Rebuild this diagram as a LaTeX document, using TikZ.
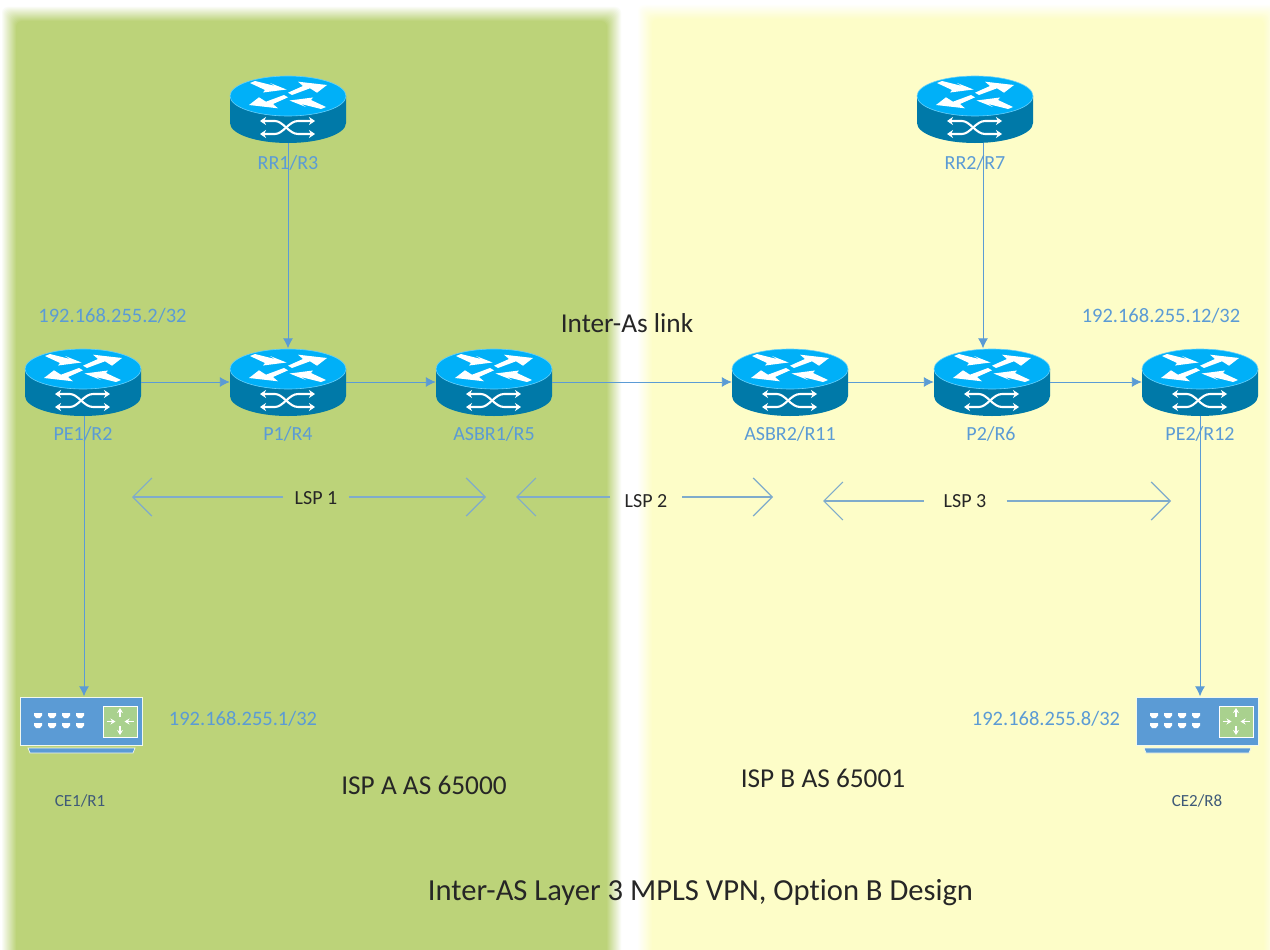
\documentclass[tikz,border=0pt]{standalone}
\usepackage{fontspec}
\setmainfont{Carlito}[Ligatures=NoCommon]
\usetikzlibrary{arrows.meta}
\definecolor{panelA}{HTML}{BCD379}
\definecolor{panelB}{HTML}{FDFDC8}
\definecolor{linkblue}{HTML}{5B9BD5}
\definecolor{lsp}{HTML}{7FABCB}
\definecolor{ctop}{HTML}{00B0F8}
\definecolor{cbody}{HTML}{0079A8}
\definecolor{cegreen}{HTML}{A9D18E}
\definecolor{celabel}{HTML}{3F5A78}
\tikzset{
  x=1pt,y=-1pt,
  hostbox/.style={inner sep=0,minimum width=116,minimum height=67},
  cebox/.style={inner sep=0,minimum width=122,minimum height=49},
  iplabel/.style={text=linkblue,font=\fontsize{20.5}{22}\selectfont,inner sep=0},
  rlabel/.style={text=linkblue,font=\fontsize{20}{22}\selectfont,inner sep=0},
  celab/.style={text=celabel,font=\fontsize{17}{19}\selectfont,inner sep=0},
  caption/.style={text=black!85,font=\fontsize{27.3}{30}\selectfont,inner sep=0},
  lsplab/.style={text=black!85,font=\fontsize{20}{22}\selectfont,inner sep=0},
  conn/.style={draw=linkblue,line width=.9pt,-{Latex[length=10pt,width=10pt]}},
  lsparrow/.style={draw=lsp,line width=1.2pt,-{Straight Barb[length=19pt,width=38pt,line width=1.2pt]}},
  crossline/.style={white,line width=2.1pt,{Stealth[length=6pt,width=8pt]}-{Stealth[length=6pt,width=8pt]}},
  routericon/.pic={
    \fill[cbody] (-58,-13) -- (-58,14) arc[start angle=180,end angle=360,x radius=58,y radius=-20] -- (58,-13) -- cycle;
    \fill[ctop,draw=ctop!60!white,line width=.6pt] (0,-13) ellipse[x radius=58,y radius=20];
    \foreach \r in {0,180}{
      \begin{scope}[rotate around={\r:(0,-14)}]
        \fill[white] (-38,-26) -- (-33,-28) -- (-13,-23) -- (-18,-26) -- (-1.5,-19.5) -- (-25,-16.5) -- (-23,-19) -- cycle;
        \fill[white] (0,-16.3) -- (15,-23) -- (10,-27.3) -- (39,-24) -- (29,-16.3) -- (22,-20.7) -- (4,-14) -- cycle;
      \end{scope}
    }
    \draw[crossline] (-28,12) -- (-13,12) .. controls (-5,12) and (1,25) .. (10,25) -- (27,25);
    \draw[crossline] (-28,25) -- (-13,25) .. controls (-5,25) and (1,12) .. (10,12) -- (27,12);
  },
  ceicon/.pic={
    \fill[linkblue,draw=white!85!cegreen,line width=1pt] (-61,-24) rectangle (61,24);
    \fill[linkblue,draw=white!85!cegreen,line width=.7pt] (-53.5,27) -- (53.5,27) -- (51.5,32) -- (-51.5,32) -- cycle;
    \fill[cegreen,draw=white,line width=.8pt] (21.5,-15) rectangle (55.5,16);
    \foreach \a in {-47.5,-33.5,-19.5,-5.5}{
      \foreach \b in {-8,2}{
        \fill[white] (\a,\b) -- (\a+8,\b) -- (\a+8,\b+2.5) -- (\a+6,\b+5) -- (\a+2,\b+5) -- (\a,\b+2.5) -- cycle;
      }
    }
    \begin{scope}[white,line width=1.3pt,-{Stealth[length=5pt,width=6pt]}]
      \draw (38.5,-4) -- (38.5,-13);
      \draw (38.5,5) -- (38.5,14);
      \draw (25,0.5) -- (34,0.5);
      \draw (52,0.5) -- (43,0.5);
    \end{scope}
  },
}
\newcommand{\hostrouter}[3]{\node[hostbox] (#1) at (#2,#3) {}; \pic at (#1) {routericon};}
\newcommand{\cedevice}[3]{\node[cebox] (#1) at (#2,#3) {}; \pic at (#1) {ceicon};}
\begin{document}
\begin{tikzpicture}
\useasboundingbox (0,0) rectangle (1270,950);
\fill[white] (0,0) rectangle (1270,950);
\begin{scope}
\clip (0,0) rectangle (1270,950);
\foreach \i in {0,...,14}{
  \pgfmathsetmacro{\p}{100*(\i+1)/15}
  \fill[panelA!\p!white,rounded corners=6pt] (2+\i,7+\i) rectangle (621-\i,990);
  \fill[panelB!\p!white,rounded corners=6pt] (638+\i,5+\i) rectangle (1278-\i,990);
}
\end{scope}

\hostrouter{rr1}{288}{109}
\hostrouter{rr2}{975}{109}
\hostrouter{pe1}{83}{382}
\hostrouter{p1}{288}{382}
\hostrouter{asbr1}{494}{382}
\hostrouter{asbr2}{790}{382}
\hostrouter{p2}{992}{382}
\hostrouter{pe2}{1200}{382}
\cedevice{ce1}{81.5}{721}
\cedevice{ce2}{1197.5}{721}

\draw[conn] (rr1.south) -- (p1.north);
\draw[conn] ([xshift=8]rr2.south) -- ([xshift=-9]p2.north);
\draw[conn] (pe1.east) -- (p1.west);
\draw[conn] (p1.east) -- (asbr1.west);
\draw[conn] (asbr1.east) -- (asbr2.west);
\draw[conn] (asbr2.east) -- (p2.west);
\draw[conn] (p2.east) -- (pe2.west);
\draw[conn] ([xshift=1]pe1.south) -- ([xshift=2.5]ce1.north);
\draw[conn] (pe2.south) -- ([xshift=2.5]ce2.north);

\node[rlabel] (lrr1) at (288,163) {RR1/R3};
\node[rlabel] (lrr2) at (975,163) {RR2/R7};
\node[rlabel] (lpe1) at (83,434) {PE1/R2};
\node[rlabel] (lp1) at (288,434) {P1/R4};
\node[rlabel] (lasbr1) at (494,434) {ASBR1/R5};
\node[rlabel] (lasbr2) at (790,434) {ASBR2/R11};
\node[rlabel] (lp2) at (991,434) {P2/R6};
\node[rlabel] (lpe2) at (1200,434) {PE2/R12};
\node[celab] (lce1) at (80,801) {CE1/R1};
\node[celab] (lce2) at (1197,801) {CE2/R8};

\node[iplabel] (ip2) at (112.5,316) {192.168.255.2/32};
\node[iplabel] (ip12) at (1161,316) {192.168.255.12/32};
\node[iplabel] (ip1) at (243,719) {192.168.255.1/32};
\node[iplabel] (ip8) at (1046,719) {192.168.255.8/32};

\node[caption] (interlink) at (627,323) {Inter-As link};
\node[caption] (ispa) at (424,785) {ISP A AS 65000};
\node[caption] (ispb) at (823,778) {ISP B AS 65001};
\node[caption,font=\fontsize{30.6}{34}\selectfont] (title) at (700.5,893) {Inter-AS Layer 3 MPLS VPN, Option B Design};

\node[lsplab,inner xsep=11.5pt] (lsp1) at (316,498) {LSP 1};
\node[lsplab,inner xsep=14.5pt] (lsp2) at (646,501) {LSP 2};
\node[lsplab,inner xsep=20pt] (lsp3) at (965,501) {LSP 3};
\coordinate (l1a) at (132,497);
\coordinate (l1b) at (486,497);
\coordinate (l2a) at (516,497);
\coordinate (l2b) at (773,497);
\coordinate (l3a) at (823,501);
\coordinate (l3b) at (1171,501);
\draw[lsparrow] (l1a -| lsp1.west) -- (l1a);
\draw[lsparrow] (l1b -| lsp1.east) -- (l1b);
\draw[lsparrow] (l2a -| lsp2.west) -- (l2a);
\draw[lsparrow] (l2b -| lsp2.east) -- (l2b);
\draw[lsparrow] (l3a -| lsp3.west) -- (l3a);
\draw[lsparrow] (l3b -| lsp3.east) -- (l3b);
\end{tikzpicture}
\end{document}
